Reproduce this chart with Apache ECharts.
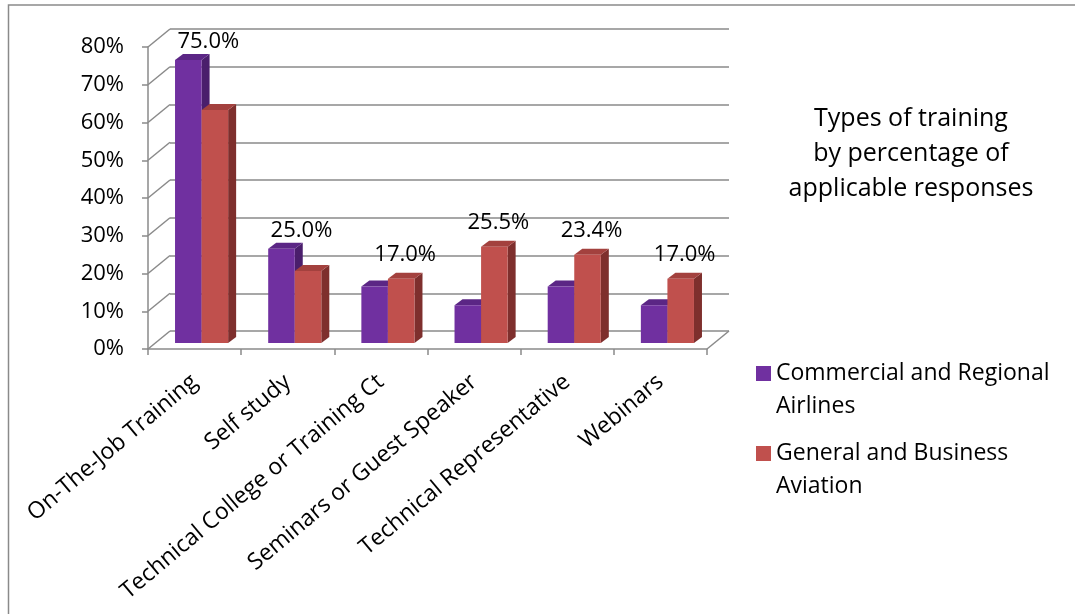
<!DOCTYPE html>
<html>
<head>
<meta charset="utf-8">
<script src="https://cdn.jsdelivr.net/npm/echarts@6/dist/echarts.min.js"></script>
<style>html,body{margin:0;padding:0;background:#fff;}#c{width:1075px;height:614px;}</style>
</head>
<body>
<div id="c"></div>
<script>
const categories = ['On-The-Job Training', 'Self study', 'Technical College or Training Ct', 'Seminars or Guest Speaker', 'Technical Representative', 'Webinars'];
const seriesNames = ['Commercial and Regional Airlines', 'General and Business Aviation'];
const legendLabels = ['Commercial and Regional\nAirlines', 'General and Business\nAviation'];
const commercial = [75.0, 25.0, 15.0, 10.0, 15.0, 10.0];
const general = [61.7, 19.1, 17.0, 25.5, 23.4, 17.0];
const yTicks = [0, 10, 20, 30, 40, 50, 60, 70, 80];
const titleText = 'Types of training\nby percentage of\napplicable responses';

const FONT = 'Open Sans';
const GRID_COLOR = '#8a8a8a';
const WALL_DX = 22, WALL_DY = -18;   // depth of the floor / side wall
const BAR_DX = 7, BAR_DY = -6;       // bar front plane offset
const BAR_DEPTH_X = 8, BAR_DEPTH_Y = -6;
const BAR_FRAC = 0.285;
const faceColors = [
  { front: '#7030A0', top: '#5B2685', side: '#4A1E6C' },
  { front: '#C0504D', top: '#A3413E', side: '#7E2F2D' }
];

const chart = echarts.init(document.getElementById('c'), null, { renderer: 'canvas' });

function barRender(sIdx) {
  return function (params, api) {
    const i = api.value(0), v = api.value(1);
    const p0 = api.coord([i, 0]);
    const p1 = api.coord([i, v]);
    const bw = api.size([1, 0])[0];
    const w = bw * BAR_FRAC;
    const x0 = p0[0] + BAR_DX - w + sIdx * w;
    const yb = p0[1] + BAR_DY;
    const yt = p1[1] + BAR_DY;
    const c = faceColors[sIdx];
    const children = [
      { type: 'polygon', shape: { points: [[x0 + w, yt], [x0 + w + BAR_DEPTH_X, yt + BAR_DEPTH_Y], [x0 + w + BAR_DEPTH_X, yb + BAR_DEPTH_Y], [x0 + w, yb]] }, style: { fill: c.side } },
      { type: 'polygon', shape: { points: [[x0, yt], [x0 + w, yt], [x0 + w + BAR_DEPTH_X, yt + BAR_DEPTH_Y], [x0 + BAR_DEPTH_X, yt + BAR_DEPTH_Y]] }, style: { fill: c.top } },
      { type: 'rect', shape: { x: x0, y: yt, width: w, height: yb - yt }, style: { fill: c.front } }
    ];
    const other = sIdx === 0 ? general[i] : commercial[i];
    if (v >= other && !(sIdx === 1 && v === other)) {
      children.push({
        type: 'text',
        style: {
          text: v.toFixed(1) + '%',
          x: x0 + w / 2 + BAR_DEPTH_X / 2 + (sIdx === 0 ? 16 : 0),
          y: yt + BAR_DEPTH_Y - (sIdx === 0 ? 1 : 7),
          align: 'center', verticalAlign: 'bottom',
          font: '22px "' + FONT + '"', fill: '#000'
        },
        z2: 10
      });
    }
    return { type: 'group', children: children };
  };
}

function wallRender(params, api) {
  const v = api.value(0);
  const cs = params.coordSys;
  const y = api.coord([0, v])[1];
  const children = [
    { type: 'line', shape: { x1: cs.x, y1: y, x2: cs.x + WALL_DX, y2: y + WALL_DY }, style: { stroke: GRID_COLOR, lineWidth: 1.5 } }
  ];
  if (v === 0) {
    const xr = cs.x + cs.width;
    children.push({ type: 'line', shape: { x1: xr, y1: y, x2: xr + WALL_DX, y2: y + WALL_DY }, style: { stroke: GRID_COLOR, lineWidth: 1.5 } });
  }
  return { type: 'group', children: children };
}

const option = {
  backgroundColor: '#fff',
  animation: false,
  textStyle: { fontFamily: FONT },
  title: {
    text: titleText,
    left: 906, top: 96,
    textAlign: 'center',
    textStyle: { fontFamily: FONT, fontSize: 25, fontWeight: 'normal', color: '#000', lineHeight: 35 }
  },
  legend: {
    orient: 'vertical',
    left: 751, top: 319,
    itemWidth: 15, itemHeight: 15,
    itemGap: -19,
    icon: 'rect',
    data: seriesNames,
    formatter: function (name) { return '\n' + legendLabels[seriesNames.indexOf(name)]; },
    textStyle: { fontFamily: FONT, fontSize: 23, color: '#000', lineHeight: 33 }
  },
  graphic: [
    { type: 'rect', shape: { x: 8.5, y: 5, width: 1200, height: 1000 }, style: { fill: 'none', stroke: '#8a8a8a', lineWidth: 1.5 }, silent: true }
  ],
  grid: [
    { left: 148, top: 47, width: 559, height: 302 },
    { left: 148 + WALL_DX, top: 47 + WALL_DY, width: 559, height: 302 }
  ],
  xAxis: [
    {
      type: 'category', gridIndex: 0, data: categories,
      axisLine: { lineStyle: { color: GRID_COLOR, width: 1.5 } },
      axisTick: { show: true, length: 6, lineStyle: { color: GRID_COLOR, width: 1.5 } },
      axisLabel: { interval: 0, rotate: 40, margin: 30, fontFamily: FONT, fontSize: 23, color: '#000' },
      splitLine: { show: false }
    },
    {
      type: 'category', gridIndex: 1, data: categories,
      axisLine: { show: false }, axisTick: { show: false }, axisLabel: { show: false }, splitLine: { show: false }
    }
  ],
  yAxis: [
    {
      type: 'value', gridIndex: 0, min: 0, max: 80, interval: 10,
      axisLine: { show: true, lineStyle: { color: GRID_COLOR, width: 1.5 } },
      axisTick: { show: true, length: 6, lineStyle: { color: GRID_COLOR, width: 1.5 } },
      axisLabel: { formatter: '{value}%', margin: 24, fontFamily: FONT, fontSize: 22, color: '#000' },
      splitLine: { show: false }
    },
    {
      type: 'value', gridIndex: 1, min: 0, max: 80, interval: 10,
      axisLine: { show: false }, axisTick: { show: false }, axisLabel: { show: false },
      splitLine: { show: true, lineStyle: { color: GRID_COLOR, width: 1.5 } }
    }
  ],
  series: [
    {
      type: 'custom', name: 'walls', xAxisIndex: 0, yAxisIndex: 0,
      renderItem: wallRender,
      data: yTicks.map(t => [t]),
      encode: { y: 0 },
      silent: true, z: 1
    },
    {
      type: 'custom', name: seriesNames[0], xAxisIndex: 0, yAxisIndex: 0,
      renderItem: barRender(0),
      itemStyle: { color: faceColors[0].front },
      data: commercial.map((v, i) => [i, v]),
      encode: { x: 0, y: 1 }, z: 3
    },
    {
      type: 'custom', name: seriesNames[1], xAxisIndex: 0, yAxisIndex: 0,
      renderItem: barRender(1),
      itemStyle: { color: faceColors[1].front },
      data: general.map((v, i) => [i, v]),
      encode: { x: 0, y: 1 }, z: 4
    }
  ]
};
chart.setOption(option);
</script>
</body>
</html>
